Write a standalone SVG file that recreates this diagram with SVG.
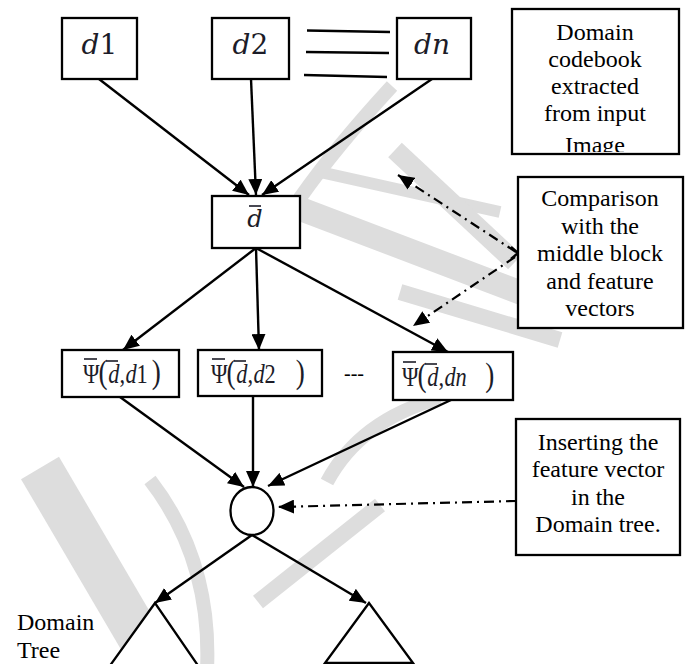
<svg xmlns="http://www.w3.org/2000/svg" width="686" height="664" viewBox="0 0 686 664">
<defs>
<style>
.box{fill:#fff;stroke:#000;stroke-width:2.3}
.conn{fill:none;stroke:#000;stroke-width:2.4}
.dd{fill:none;stroke:#000;stroke-width:2.2;stroke-dasharray:10 5 2 5}
.bar{stroke:#1c1c28;stroke-width:1.6}
.wm{fill:none;stroke:#dddddd;stroke-linecap:butt}
.t{font-family:"Liberation Serif","Times New Roman",serif;font-size:24px;fill:#000;text-anchor:middle}
.m{font-family:"DejaVu Serif",serif;fill:#1c1c28}
.p{font-family:"Liberation Serif","Times New Roman",serif;fill:#1c1c28;font-size:28px}
.i{font-style:italic}
</style>
<marker id="ah" viewBox="0 0 16 14" refX="16" refY="7" markerWidth="16" markerHeight="14" markerUnits="userSpaceOnUse" orient="auto">
<path d="M0,0 L16,7 L0,14 Z" fill="#000"/>
</marker>
<clipPath id="cbclip"><rect x="512" y="9" width="167" height="143"/></clipPath>
</defs>
<rect width="686" height="664" fill="#fff"/>
<g id="watermark" class="wm">
<path d="M40 468 L155 664" stroke-width="44"/>
<path d="M150 480 Q212 560 207 670" stroke-width="14"/>
<path d="M380 505 L258 602" stroke-width="16"/>
<path d="M290 205 L540 300" stroke-width="24"/>
<path d="M320 172 L500 212" stroke-width="12"/>
<path d="M395 150 L515 262" stroke-width="20"/>
<path d="M400 292 L560 340" stroke-width="16"/>
<path d="M392 86 Q335 148 300 198" stroke-width="14"/>
<path d="M327 482 Q360 420 440 398" stroke-width="14"/>
</g>
<g id="connectors">
<line class="conn" x1="99" y1="79" x2="249" y2="195" marker-end="url(#ah)"/>
<line class="conn" x1="251" y1="79" x2="256" y2="195" marker-end="url(#ah)"/>
<line class="conn" x1="432" y1="79" x2="262" y2="195" marker-end="url(#ah)"/>
<line class="conn" x1="307" y1="30.5" x2="390" y2="32"/>
<line class="conn" x1="306" y1="52" x2="389" y2="53"/>
<line class="conn" x1="304" y1="75" x2="387" y2="77"/>
<line class="conn" x1="256" y1="248" x2="123" y2="350" marker-end="url(#ah)"/>
<line class="conn" x1="256" y1="248" x2="259" y2="350" marker-end="url(#ah)"/>
<line class="conn" x1="256" y1="248" x2="448" y2="352" marker-end="url(#ah)"/>
<line class="conn" x1="120" y1="397" x2="244" y2="487" marker-end="url(#ah)"/>
<line class="conn" x1="253" y1="396" x2="253" y2="487" marker-end="url(#ah)"/>
<line class="conn" x1="451" y1="400" x2="268" y2="486" marker-end="url(#ah)"/>
<line class="conn" x1="252" y1="535" x2="155" y2="603" marker-end="url(#ah)"/>
<line class="conn" x1="252" y1="535" x2="366" y2="603" marker-end="url(#ah)"/>
<line class="dd" x1="516" y1="252" x2="398" y2="175" marker-end="url(#ah)"/>
<polyline class="conn" points="511,247 518,253 511,259" stroke-width="2"/>
<line class="dd" x1="515" y1="257" x2="413" y2="326" marker-end="url(#ah)"/>
<line class="dd" x1="516" y1="501" x2="278" y2="507" marker-end="url(#ah)"/>
</g>
<g id="d1">
<rect class="box" x="62" y="18" width="75" height="61"/>
<text class="m" x="99.5" y="54" font-size="28" text-anchor="middle"><tspan class="i">d</tspan>1</text>
</g>
<g id="d2">
<rect class="box" x="212" y="18" width="77" height="61"/>
<text class="m" x="250.5" y="54" font-size="28" text-anchor="middle"><tspan class="i">d</tspan>2</text>
</g>
<g id="dn">
<rect class="box" x="397" y="18" width="74" height="61"/>
<text class="m i" x="432" y="54" font-size="28" text-anchor="middle">dn</text>
</g>
<g id="codebook">
<rect class="box" x="512" y="9" width="167" height="145"/>
<text class="t" clip-path="url(#cbclip)"><tspan x="595" y="40">Domain</tspan><tspan x="595" y="67">codebook</tspan><tspan x="595" y="94">extracted</tspan><tspan x="595" y="121">from input</tspan><tspan x="595" y="153">Image</tspan></text>
</g>
<g id="dbar">
<rect class="box" x="212" y="196" width="88" height="52"/>
<text class="m i" x="255" y="227" font-size="24" text-anchor="middle">d</text>
<line class="bar" x1="249" y1="206" x2="261" y2="206"/>
</g>
<g id="comparison">
<rect class="box" x="518" y="177" width="165" height="151"/>
<text class="t"><tspan x="600" y="206">Comparison</tspan><tspan x="600" y="234">with the</tspan><tspan x="600" y="261">middle block</tspan><tspan x="600" y="289">and feature</tspan><tspan x="600" y="316">vectors</tspan></text>
</g>
<g id="psi1">
<rect class="box" x="62" y="350" width="117" height="47"/>
<text class="p" transform="translate(83,383) scale(0.8,1)"><tspan x="0">Ψ</tspan><tspan x="19.5" font-size="34">(</tspan><tspan x="31.5" class="i">d</tspan><tspan x="45.5">,</tspan><tspan x="53" class="i">d</tspan>1<tspan x="86" font-size="34">)</tspan></text>
<line class="bar" x1="84" y1="359" x2="97" y2="359"/>
<line class="bar" x1="106" y1="361" x2="118" y2="361"/>
</g>
<g id="psi2">
<rect class="box" x="198" y="350" width="124" height="46"/>
<text class="p" transform="translate(211,383) scale(0.8,1)"><tspan x="0">Ψ</tspan><tspan x="19.5" font-size="34">(</tspan><tspan x="31.5" class="i">d</tspan><tspan x="45.5">,</tspan><tspan x="53" class="i">d</tspan>2<tspan x="106" font-size="34">)</tspan></text>
<line class="bar" x1="212" y1="359" x2="225" y2="359"/>
<line class="bar" x1="234" y1="361" x2="246" y2="361"/>
</g>
<text id="ellipsis" x="354" y="380" font-family="Liberation Serif, serif" font-size="20" text-anchor="middle">---</text>
<g id="psin">
<rect class="box" x="393" y="352" width="120" height="48"/>
<text class="p" transform="translate(402,386) scale(0.8,1)"><tspan x="0">Ψ</tspan><tspan x="19.5" font-size="34">(</tspan><tspan x="31.5" class="i">d</tspan><tspan x="45.5">,</tspan><tspan x="53" class="i">dn</tspan><tspan x="104" font-size="34">)</tspan></text>
<line class="bar" x1="403" y1="362" x2="416" y2="362"/>
<line class="bar" x1="425" y1="364" x2="437" y2="364"/>
</g>
<g id="inserting">
<rect class="box" x="516" y="419" width="164" height="136"/>
<text class="t"><tspan x="598" y="450">Inserting the</tspan><tspan x="598" y="477">feature vector</tspan><tspan x="598" y="505">in the</tspan><tspan x="598" y="532">Domain tree.</tspan></text>
</g>
<g id="node">
<ellipse class="box" cx="252" cy="511" rx="21.5" ry="24"/>
</g>
<g id="tree-left">
<polygon class="box" points="155,603 109,667 199,667" fill="none"/>
</g>
<g id="tree-right">
<polygon class="box" points="369,603 325,663 413,663" fill="none"/>
</g>
<text id="domain-tree-label" class="t" style="text-anchor:start"><tspan x="17" y="630">Domain</tspan><tspan x="17" y="658">Tree</tspan></text>
</svg>
